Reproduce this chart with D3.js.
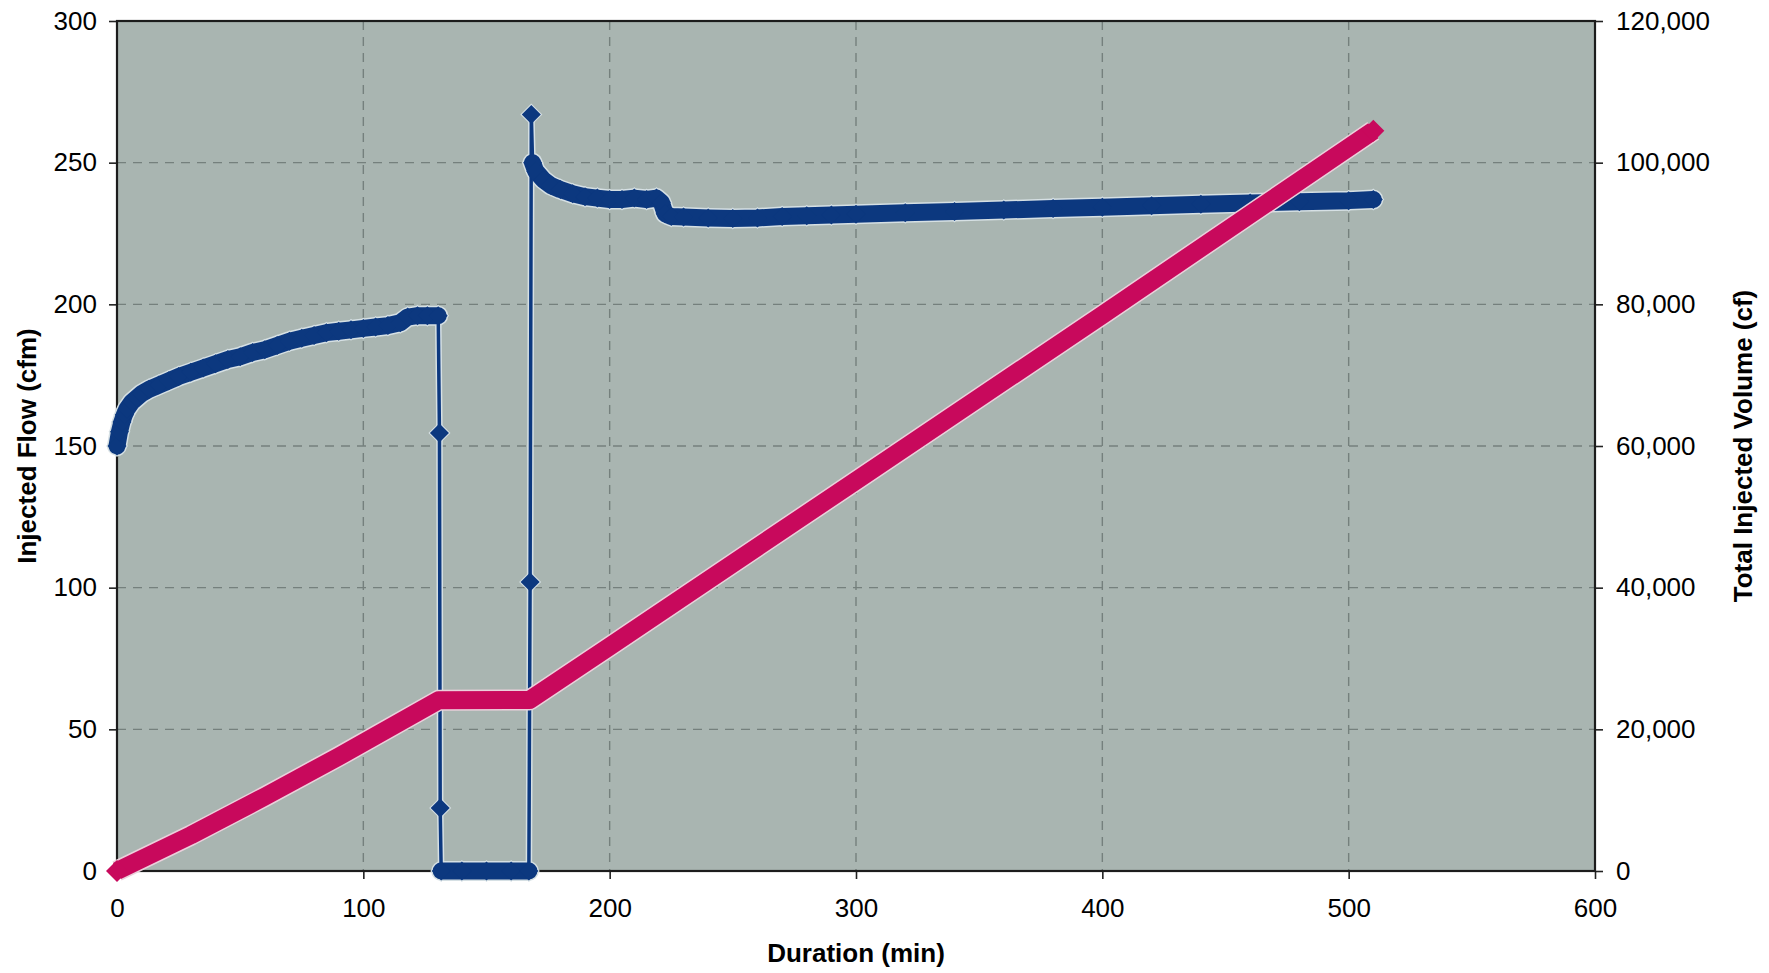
<!DOCTYPE html>
<html>
<head>
<meta charset="utf-8">
<script src="https://cdn.jsdelivr.net/npm/d3@7"></script>
<style>
  html, body { margin: 0; padding: 0; background: #ffffff; }
  svg { display: block; }
  text { font-family: "Liberation Sans", Arial, Helvetica, sans-serif; fill: #000; }
</style>
</head>
<body>
<svg id="chart" width="1769" height="973"></svg>
<script>
// ---------------- data ----------------
const xTicks = [0, 100, 200, 300, 400, 500, 600];
const flowTicks = [0, 50, 100, 150, 200, 250, 300];
const volumeTicks = [0, 20000, 40000, 60000, 80000, 100000, 120000];

// Injected Flow (cfm) vs Duration (min)
const flowTime = [0, 1, 2, 3, 4, 6, 8, 10, 13, 17, 21, 25, 30, 35, 40, 45, 50, 55, 60, 65,
  70, 75, 80, 85, 90, 95, 100, 105, 110, 115, 118, 122, 126, 130.4,
  130.9, 131.2, 131.6, 140, 150, 160, 167.2,
  167.7, 168.2, 168.7, 170, 173, 176, 180, 185, 190, 195, 200, 205, 210, 215, 219, 221,
  222.5, 225, 230, 240, 250, 260, 270, 280, 290, 300, 320, 340, 360, 380, 400, 420,
  440, 460, 480, 500, 510];
const flowCfm = [150, 155, 158.5, 161, 163, 165.5, 167, 168.5, 170, 171.5, 173, 174.5, 176, 177.5, 179, 180.5, 181.5, 183, 184, 185.5,
  187, 188, 189, 190, 190.5, 191, 191.5, 192, 192.5, 193.5, 195.5, 196, 196, 196,
  154.6, 22.2, 0, 0, 0, 0, 0,
  102, 267, 250, 247, 244, 242, 240.5, 239, 238, 237.5, 237, 237, 237.5, 237, 237.5, 236,
  232, 231, 230.8, 230.5, 230.3, 230.5, 231, 231.3, 231.5, 231.8, 232.3, 232.8, 233.3, 233.8, 234.3, 234.8,
  235.3, 235.8, 236.2, 236.6, 237];

// Total Injected Volume (cf) vs Duration (min)
const volTime = [0, 30, 60, 90, 130.5, 167.5, 200, 300, 400, 510];
const volCf = [0, 5050, 10500, 16150, 24100, 24150, 31700, 55100, 78500, 104500];

// ---------------- layout ----------------
const svg = d3.select("#chart");
const L = 117, R = 1595, T = 21, B = 871;
const x = d3.scaleLinear().domain([0, 600]).range([L, R]);
const yL = d3.scaleLinear().domain([0, 300]).range([B, T]);
const yR = d3.scaleLinear().domain([0, 120000]).range([B, T]);

const BLUE = "#0c387f", RED = "#c8095c";

// plot background
svg.append("rect").attr("x", L).attr("y", T).attr("width", R - L).attr("height", B - T)
  .attr("fill", "#a9b5b1");

// gridlines
const grid = svg.append("g").attr("stroke", "#75807d").attr("stroke-width", 1.4)
  .attr("stroke-dasharray", "9,7").attr("fill", "none");
grid.selectAll("line.h").data(flowTicks.filter(v => v > 0 && v < 300)).join("line")
  .attr("class", "h")
  .attr("x1", L).attr("x2", R).attr("y1", d => yL(d)).attr("y2", d => yL(d));
grid.selectAll("line.v").data(xTicks.filter(v => v > 0 && v < 600)).join("line")
  .attr("class", "v")
  .attr("y1", T).attr("y2", B).attr("x1", d => x(d)).attr("x2", d => x(d));

// axes
function styleAxis(g) {
  g.select(".domain").remove();
  g.selectAll(".tick line").attr("stroke", "#222").attr("stroke-width", 1.6);
  g.selectAll(".tick text").attr("font-size", 26).attr("fill", "#000")
    .attr("font-family", '"Liberation Sans", Arial, sans-serif');
}
svg.append("g").attr("transform", `translate(${L},0)`)
  .call(d3.axisLeft(yL).tickValues(flowTicks).tickSize(8).tickPadding(12).tickFormat(d3.format("d")))
  .call(styleAxis);
svg.append("g").attr("transform", `translate(${R},0)`)
  .call(d3.axisRight(yR).tickValues(volumeTicks).tickSize(8).tickPadding(13).tickFormat(d3.format(",")))
  .call(styleAxis);
svg.append("g").attr("transform", `translate(0,${B})`)
  .call(d3.axisBottom(x).tickValues(xTicks).tickSize(8).tickPadding(20).tickFormat(d3.format("d")))
  .call(styleAxis);

// plot frame
svg.append("rect").attr("x", L).attr("y", T).attr("width", R - L).attr("height", B - T)
  .attr("fill", "none").attr("stroke", "#1c1c1c").attr("stroke-width", 2.2);

// axis titles
svg.append("text").attr("x", (L + R) / 2).attr("y", 962).attr("text-anchor", "middle")
  .attr("font-size", 26).attr("font-weight", "bold").text("Duration (min)");
svg.append("text").attr("transform", `translate(36,${(T + B) / 2}) rotate(-90)`)
  .attr("text-anchor", "middle").attr("font-size", 26).attr("font-weight", "bold")
  .text("Injected Flow (cfm)");
svg.append("text").attr("transform", `translate(1752,${(T + B) / 2}) rotate(-90)`)
  .attr("text-anchor", "middle").attr("font-size", 26).attr("font-weight", "bold")
  .text("Total Injected Volume (cf)");

// ---------------- series ----------------
const diamond = r => `M0,${-r}L${r},0L0,${r}L${-r},0Z`;

// Flow series
const flowPts = flowTime.map((t, i) => ({ t, v: flowCfm[i] }));
const lineL = d3.line().x(d => x(d.t)).y(d => yL(d.v));
// dense runs (consecutive points without a jump) appear as a thick band of overlapping markers
const runs = [];
let cur = [flowPts[0]];
for (let i = 1; i < flowPts.length; i++) {
  if (Math.abs(flowPts[i].v - flowPts[i - 1].v) > 12) { runs.push(cur); cur = [flowPts[i]]; }
  else cur.push(flowPts[i]);
}
runs.push(cur);
const denseRuns = runs.filter(r => r.length > 1);

const HALO = "#d6e0e4";
const gFlow = svg.append("g");
// halo
gFlow.append("path").datum(flowPts).attr("d", lineL).attr("fill", "none")
  .attr("stroke", HALO).attr("stroke-width", 6.5).attr("stroke-linejoin", "round");
gFlow.selectAll("path.bandHalo").data(denseRuns).join("path").attr("class", "bandHalo")
  .attr("d", lineL).attr("fill", "none")
  .attr("stroke", HALO).attr("stroke-width", 20).attr("stroke-linejoin", "round").attr("stroke-linecap", "round");
gFlow.selectAll("path.mkHalo").data(flowPts).join("path").attr("class", "mkHalo")
  .attr("transform", d => `translate(${x(d.t)},${yL(d.v)})`).attr("d", diamond(11)).attr("fill", HALO);
// main
gFlow.append("path").datum(flowPts).attr("d", lineL).attr("fill", "none")
  .attr("stroke", BLUE).attr("stroke-width", 3.5).attr("stroke-linejoin", "round");
gFlow.selectAll("path.band").data(denseRuns).join("path").attr("class", "band")
  .attr("d", lineL).attr("fill", "none")
  .attr("stroke", BLUE).attr("stroke-width", 17).attr("stroke-linejoin", "round").attr("stroke-linecap", "round");
gFlow.selectAll("path.mk").data(flowPts).join("path").attr("class", "mk")
  .attr("transform", d => `translate(${x(d.t)},${yL(d.v)})`).attr("d", diamond(9.5)).attr("fill", BLUE);

// Volume series
const volPts = volTime.map((t, i) => ({ t, v: volCf[i] }));
const lineR = d3.line().x(d => x(d.t)).y(d => yR(d.v));
const gVol = svg.append("g");
gVol.append("path").datum(volPts).attr("d", lineR).attr("fill", "none")
  .attr("stroke", "#ebd0db").attr("stroke-width", 21).attr("stroke-linejoin", "round");
gVol.append("path").datum(volPts).attr("d", lineR).attr("fill", "none")
  .attr("stroke", RED).attr("stroke-width", 18).attr("stroke-linejoin", "round");
gVol.selectAll("path.mk").data([volPts[0], volPts[volPts.length - 1]]).join("path").attr("class", "mk")
  .attr("transform", d => `translate(${x(d.t)},${yR(d.v)})`).attr("d", diamond(11)).attr("fill", RED);
</script>
</body>
</html>
